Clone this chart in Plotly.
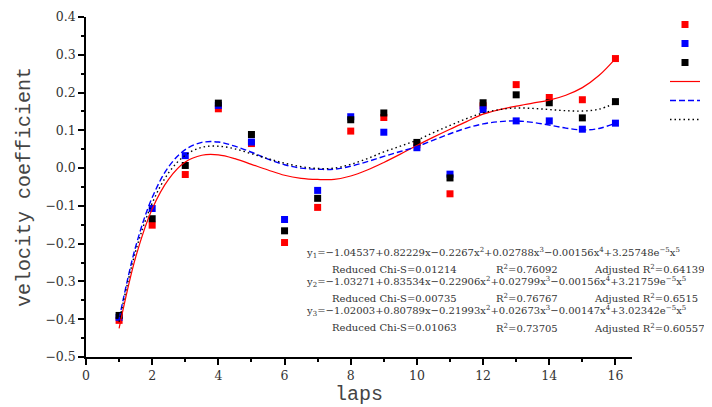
import plotly.graph_objects as go

# ---- data ----
laps = [1, 2, 3, 4, 5, 6, 7, 8, 9, 10, 11, 12, 13, 14, 15, 16]
a_vals = [-0.403, -0.151, -0.017, 0.157, 0.065, -0.197, -0.104, 0.098, 0.134, 0.062, -0.068, 0.165, 0.221, 0.187, 0.181, 0.290]
b_vals = [-0.395, -0.107, 0.033, 0.166, 0.069, -0.136, -0.059, 0.136, 0.095, 0.054, -0.016, 0.155, 0.125, 0.125, 0.103, 0.119]
c_vals = [-0.390, -0.134, 0.007, 0.172, 0.089, -0.166, -0.080, 0.128, 0.146, 0.068, -0.026, 0.173, 0.194, 0.173, 0.133, 0.176]

fit_x = [1, 1.5, 2, 2.5, 3, 3.5, 4, 4.5, 5, 5.5, 6, 6.5, 7, 7.5, 8, 8.5,
         9, 9.5, 10, 10.5, 11, 11.5, 12, 12.5, 13, 13.5, 14, 14.5, 15, 15.5, 16]
y1_fit = [-0.424, -0.236, -0.108, -0.029, 0.016, 0.034, 0.035, 0.025, 0.010, -0.005, -0.019, -0.027,
          -0.030, -0.030, -0.021, -0.005, 0.015, 0.037, 0.060, 0.082, 0.103, 0.123, 0.143, 0.155,
          0.164, 0.172, 0.180, 0.193, 0.213, 0.245, 0.290]
y2_fit = [-0.400, -0.208, -0.078, 0.004, 0.049, 0.068, 0.069, 0.058, 0.042, 0.024, 0.009, 0.000,
          -0.003, -0.003, 0.005, 0.017, 0.031, 0.044, 0.057, 0.074, 0.091, 0.106, 0.117, 0.123,
          0.125, 0.121, 0.114, 0.106, 0.101, 0.105, 0.119]
y3_fit = [-0.407, -0.220, -0.093, -0.012, 0.034, 0.055, 0.058, 0.051, 0.038, 0.025, 0.013, 0.004,
          -0.001, 0.000, 0.010, 0.025, 0.043, 0.058, 0.074, 0.094, 0.113, 0.131, 0.146, 0.155,
          0.159, 0.158, 0.155, 0.152, 0.151, 0.156, 0.172]

y_ticks = [-0.5, -0.4, -0.3, -0.2, -0.1, 0.0, 0.1, 0.2, 0.3, 0.4]
x_ticks = [0, 2, 4, 6, 8, 10, 12, 14, 16]

fit_equations = [
    "y<sub>1</sub>=−1.04537+0.82229x−0.2267x<sup>2</sup>+0.02788x<sup>3</sup>−0.00156x<sup>4</sup>+3.25748e<sup>−5</sup>x<sup>5</sup>",
    "y<sub>2</sub>=−1.03271+0.83534x−0.22906x<sup>2</sup>+0.02799x<sup>3</sup>−0.00156x<sup>4</sup>+3.21759e<sup>−5</sup>x<sup>5</sup>",
    "y<sub>3</sub>=−1.02003+0.80789x−0.21993x<sup>2</sup>+0.02673x<sup>3</sup>−0.00147x<sup>4</sup>+3.02342e<sup>−5</sup>x<sup>5</sup>",
]
chi_texts = ["Reduced Chi-S=0.01214", "Reduced Chi-S=0.00735", "Reduced Chi-S=0.01063"]
r2_texts = ["R<sup>2</sup>=0.76092", "R<sup>2</sup>=0.76767", "R<sup>2</sup>=0.73705"]
adj_texts = ["Adjusted R<sup>2</sup>=0.64139", "Adjusted R<sup>2</sup>=0.6515", "Adjusted R<sup>2</sup>=0.60557"]

# ---- figure ----
# the page body adds an 8px offset; margins compensate so the plot area sits
# at screen pixels x 86..632, y 17..357
OFF = 8
W, H = 712, 407
PX0, PY0, PW, PH = 86, 17, 546, 340
ML, MT = PX0 - OFF, PY0 - OFF
MR, MB = W - ML - PW, H - MT - PH
SERIF = "DejaVu Serif, Liberation Serif, serif"
TITLE_FONT = "Liberation Mono, DejaVu Sans Mono, monospace"

fig = go.Figure()
for name, vals, col in [("a", a_vals, "#ff0000"), ("b", b_vals, "#0000ff"), ("c", c_vals, "#000000")]:
    fig.add_trace(go.Scatter(x=laps, y=vals, mode="markers", name=name,
                             marker=dict(symbol="square", size=7, color=col, line=dict(width=0))))

fig.add_trace(go.Scatter(x=fit_x, y=y1_fit, mode="lines", name="y<sub>1</sub>",
                         line=dict(color="#ff0000", width=1.2, shape="spline")))
fig.add_trace(go.Scatter(x=fit_x, y=y2_fit, mode="lines", name="y<sub>2</sub>",
                         line=dict(color="#0000ff", width=1.4, dash="6px,3px", shape="spline")))
fig.add_trace(go.Scatter(x=fit_x, y=y3_fit, mode="lines", name="y<sub>3</sub>",
                         line=dict(color="#000000", width=1.4, dash="1.5px,3px", shape="spline")))


def px2paper(px, py):
    return (px - PX0) / PW, 1 - (py - PY0) / PH


annots = []
eq_rows = [252.5, 282.0, 311.0]
st_rows = [269.0, 298.3, 327.5]
for i in range(3):
    xp, yp = px2paper(304, eq_rows[i])
    annots.append(dict(x=xp, y=yp, text=fit_equations[i]))
    for px, txt in [(330, chi_texts[i]), (494, r2_texts[i]), (592, adj_texts[i])]:
        xp, yp = px2paper(px, st_rows[i])
        annots.append(dict(x=xp, y=yp, text=txt))
for an in annots:
    an.update(xref="paper", yref="paper", xanchor="left", yanchor="middle", showarrow=False,
              font=dict(family=SERIF, size=10, color="#333333"))

axis_common = dict(showline=True, linecolor="black", linewidth=1.5, ticks="outside",
                   ticklen=6, tickwidth=1.5, tickcolor="black", showgrid=False, zeroline=False,
                   tickfont=dict(family=SERIF, size=12.5, color="#333333"), mirror=False)

nbsp = "\u00a0"
lx, ly = px2paper(665, 10)
fig.update_layout(
    width=W, height=H, margin=dict(l=ML, r=MR, t=MT, b=MB, autoexpand=False),
    paper_bgcolor="white", plot_bgcolor="white",
    xaxis=dict(range=[0, 16.5], tickvals=x_ticks,
               minor=dict(dtick=1, ticks="outside", ticklen=3, tickwidth=1.5, tickcolor="black"),
               title=dict(text=nbsp + "laps", font=dict(family=TITLE_FONT, size=20, color="#444444"), standoff=0),
               **axis_common),
    yaxis=dict(range=[-0.5, 0.4], tickvals=y_ticks, tickformat=".1f",
               minor=dict(dtick=0.05, ticks="outside", ticklen=3, tickwidth=1.5, tickcolor="black"),
               title=dict(text="velocity coefficient" + nbsp * 5,
                          font=dict(family=TITLE_FONT, size=20, color="#444444"), standoff=9),
               **axis_common),
    legend=dict(x=lx, xanchor="left", y=ly, yanchor="top",
                bgcolor="rgba(0,0,0,0)", borderwidth=0,
                font=dict(family=SERIF, size=10, color="#444444")),
    annotations=annots,
    showlegend=True,
)

fig.write_html("out.html")
